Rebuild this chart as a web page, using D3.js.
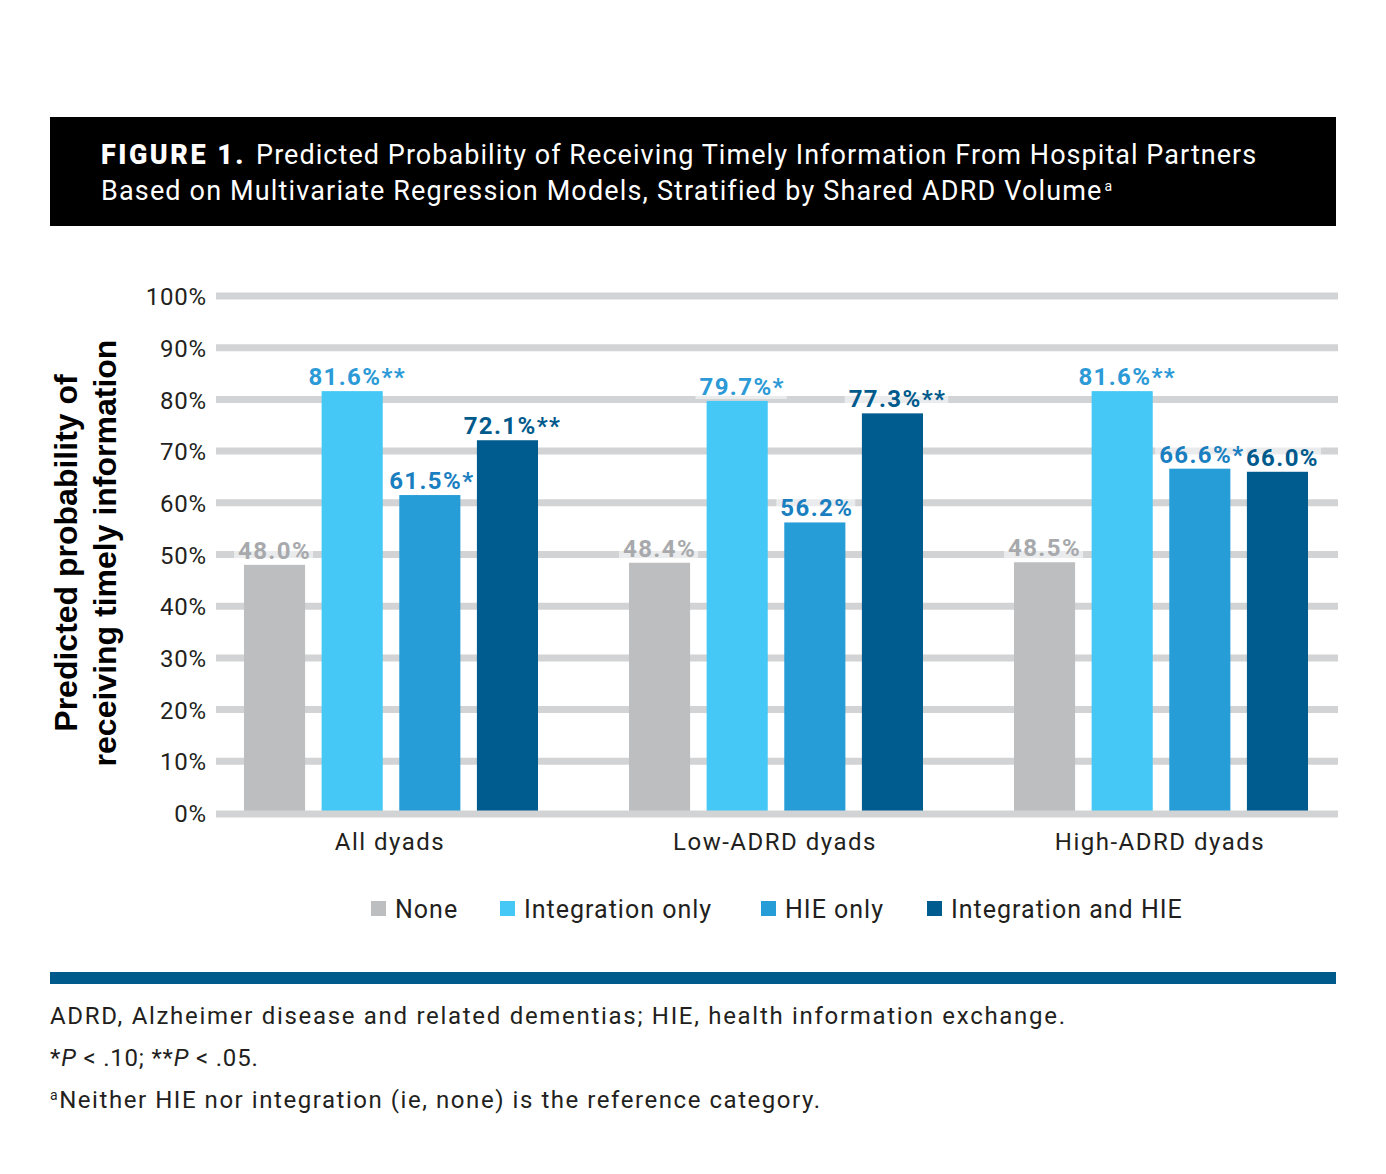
<!DOCTYPE html>
<html>
<head>
<meta charset="utf-8">
<script src="https://cdn.jsdelivr.net/npm/d3@7"></script>
<style>
html,body{margin:0;padding:0;background:#fff;}
svg{display:block;}
</style>
</head>
<body>
<svg id="chart" width="1386" height="1174"></svg>
<script>
const categories = ["All dyads", "Low-ADRD dyads", "High-ADRD dyads"];
const seriesNames = ["None", "Integration only", "HIE only", "Integration and HIE"];
const noneValues = [48.0, 48.4, 48.5];
const integrationValues = [81.6, 79.7, 81.6];
const hieValues = [61.5, 56.2, 66.6];
const bothValues = [72.1, 77.3, 66.0];
const noneSig = ["", "", ""];
const integrationSig = ["**", "*", "**"];
const hieSig = ["*", "", "*"];
const bothSig = ["**", "**", ""];
const yTicks = [0, 10, 20, 30, 40, 50, 60, 70, 80, 90, 100];
const barColors = ["#bcbec0", "#45c8f5", "#279dd8", "#005b8f"];
const labelColors = ["#a7a9ac", "#2c9ad6", "#1a7fc1", "#005a8c"];

const seriesValues = [noneValues, integrationValues, hieValues, bothValues];
const seriesSig = [noneSig, integrationSig, hieSig, bothSig];

const svg = d3.select("#chart");
const FONT = "Roboto, 'DejaVu Sans', sans-serif";
const ink = "#231f20";

// Title box
svg.append("rect").attr("x", 50).attr("y", 117).attr("width", 1286).attr("height", 109).attr("fill", "#000");
const t1 = svg.append("text").attr("x", 101).attr("y", 164).attr("fill", "#fff")
  .style("font-family", FONT).style("font-size", "27px").attr("letter-spacing", "1.05px");
t1.append("tspan").attr("font-weight", "900").attr("letter-spacing", "2.5px").text("FIGURE 1.");
t1.append("tspan").attr("dx", 10).text("Predicted Probability of Receiving Timely Information From Hospital Partners");
const t2 = svg.append("text").attr("x", 101).attr("y", 200).attr("fill", "#fff")
  .style("font-family", FONT).style("font-size", "27px").attr("letter-spacing", "1.15px");
t2.append("tspan").text("Based on Multivariate Regression Models, Stratified by Shared ADRD Volume");
t2.append("tspan").attr("dx", 2).attr("dy", -9).style("font-size", "14px").text("a");

// Scales
const y = d3.scaleLinear().domain([0, 100]).range([813, 296]);
const x0 = d3.scaleBand().domain(categories).range([198.5, 1353.5]).paddingInner(0).paddingOuter(0);
const x1 = d3.scaleBand().domain(seriesNames).range([45.5, 339.5]).paddingInner(0.213).paddingOuter(0);

// Gridlines
const gridX1 = 216, gridX2 = 1338;
svg.append("g").selectAll("line").data(yTicks.filter(d => d > 0)).join("line")
  .attr("x1", gridX1).attr("x2", gridX2)
  .attr("y1", d => y(d)).attr("y2", d => y(d))
  .attr("stroke", "#d1d3d4").attr("stroke-width", 7);

// Y axis tick labels via d3 axis
const yAxis = d3.axisLeft(y).tickValues(yTicks).tickFormat(d => d + "%").tickSize(0).tickPadding(0);
const ga = svg.append("g").attr("transform", "translate(207,0)").call(yAxis);
ga.select(".domain").remove();
ga.selectAll("text").style("font-family", FONT).style("font-size", "24px").attr("fill", ink)
  .attr("dy", "0.36em").attr("letter-spacing", "0.8px");

// Bars
const groups = svg.append("g").selectAll("g").data(categories).join("g")
  .attr("transform", d => `translate(${x0(d)},0)`);
const barData = (c, ci) => seriesNames.map((s, si) => ({s, si, ci, v: seriesValues[si][ci], sig: seriesSig[si][ci]}));
groups.selectAll("rect").data((c, ci) => barData(c, ci)).join("rect")
  .attr("x", d => x1(d.s)).attr("width", x1.bandwidth())
  .attr("y", d => y(d.v)).attr("height", d => y(0) - y(d.v))
  .attr("fill", d => barColors[d.si]);

// 0% baseline
svg.append("line").attr("x1", gridX1).attr("x2", gridX2).attr("y1", y(0) + 1).attr("y2", y(0) + 1)
  .attr("stroke", "#d1d3d4").attr("stroke-width", 7);

// Value labels (backgrounds layer under text layer)
const bgLayer = svg.append("g");
const txtLayer = svg.append("g");
categories.forEach((c, ci) => {
  barData(c, ci).forEach(d => {
    const cx = x0(c) + x1(d.s) + x1.bandwidth() / 2 + (d.si === 0 ? 0 : (d.si === 2 ? 2 : 5));
    const txt = txtLayer.append("text").attr("x", cx).attr("y", y(d.v) - 6)
      .attr("text-anchor", "middle").attr("fill", labelColors[d.si])
      .style("font-family", FONT).style("font-size", "24px").style("font-weight", "700")
      .attr("letter-spacing", "1.4px")
      .text(d.v.toFixed(1) + "%" + d.sig);
    const bb = txt.node().getBBox();
    bgLayer.append("rect").attr("x", bb.x - 4).attr("y", bb.y + 2).attr("width", bb.width + 6).attr("height", bb.height - 4)
      .attr("fill", "#fff").attr("fill-opacity", 0.55);
  });
});

// Category labels
svg.append("g").selectAll("text").data(categories).join("text")
  .attr("x", d => x0(d) + x0.bandwidth() / 2 - 1).attr("y", 850)
  .attr("text-anchor", "middle").attr("fill", ink)
  .style("font-family", FONT).style("font-size", "24px").attr("letter-spacing", "1.5px")
  .text(d => d);

// Y title
const yt = svg.append("text").attr("transform", "translate(0,553) rotate(-90)")
  .attr("text-anchor", "middle").attr("fill", "#000")
  .style("font-family", "'Liberation Sans', Arial, sans-serif").style("font-size", "32px").style("font-weight", "700");
yt.append("tspan").attr("x", 0).attr("y", 77).text("Predicted probability of");
yt.append("tspan").attr("x", 0).attr("y", 116).text("receiving timely information");

// Legend
const legendX = [371, 500, 761, 927];
const lg = svg.append("g").selectAll("g").data(seriesNames).join("g")
  .attr("transform", (d, i) => `translate(${legendX[i]},901)`);
lg.append("rect").attr("width", 15).attr("height", 15).attr("fill", (d, i) => barColors[i]);
lg.append("text").attr("x", 24).attr("y", 17).attr("fill", ink)
  .style("font-family", FONT).style("font-size", "25px").attr("letter-spacing", "1px").text(d => d);

// Blue rule
svg.append("rect").attr("x", 50).attr("y", 972).attr("width", 1286).attr("height", 12).attr("fill", "#005a8c");

// Footnotes
const fn = (yy, ls) => svg.append("text").attr("x", 50).attr("y", yy).attr("fill", ink)
  .style("font-family", FONT).style("font-size", "24px").attr("letter-spacing", ls);
fn(1024, "1.7px").text("ADRD, Alzheimer disease and related dementias; HIE, health information exchange.");
const f2 = fn(1066, "0.8px");
f2.append("tspan").text("*");
f2.append("tspan").style("font-style", "italic").text("P");
f2.append("tspan").text(" < .10; **");
f2.append("tspan").style("font-style", "italic").text("P");
f2.append("tspan").text(" < .05.");
const f3 = fn(1108, "1.55px");
f3.append("tspan").attr("dy", -8).style("font-size", "14px").text("a");
f3.append("tspan").attr("dy", 8).text("Neither HIE nor integration (ie, none) is the reference category.");
</script>
</body>
</html>
